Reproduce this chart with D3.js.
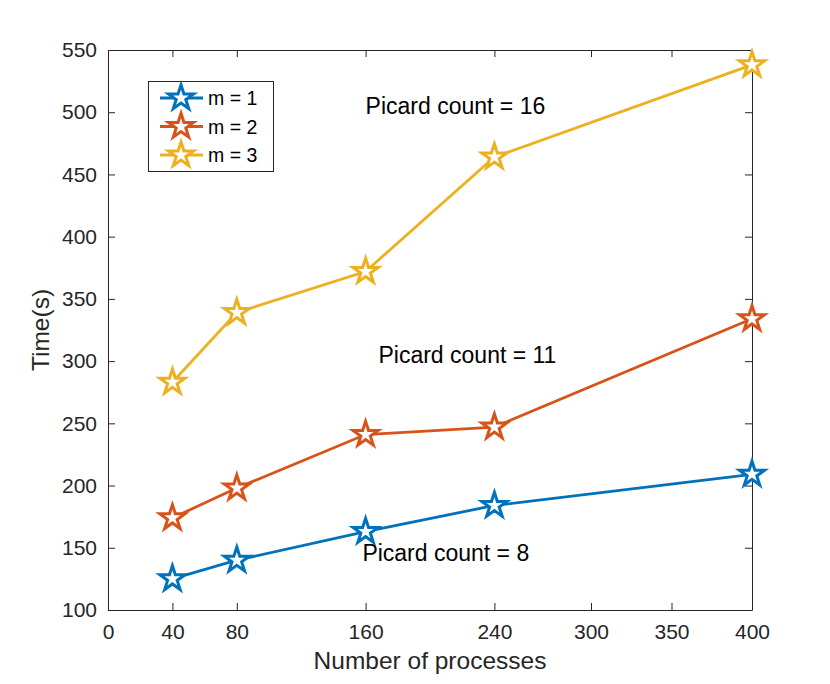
<!DOCTYPE html>
<html>
<head>
<meta charset="utf-8">
<script src="https://cdn.jsdelivr.net/npm/d3@7"></script>
<style>
  body { margin: 0; background: #fff; }
  text { font-family: "Liberation Sans", Arial, Helvetica, sans-serif; }
</style>
</head>
<body>
<svg id="chart" width="830" height="684"></svg>
<script>
// data
const processes = [40, 80, 160, 240, 400];
const seriesNames = ["m = 1", "m = 2", "m = 3"];
const timeM1 = [125, 140, 163, 184, 209];
const timeM2 = [174, 198, 241, 247, 334];
const timeM3 = [283, 339, 372, 464, 538];
const seriesColors = ["#0072BD", "#D95319", "#EDB120"];
const xTicks = [0, 40, 80, 160, 240, 300, 350, 400];
const yTicks = [100, 150, 200, 250, 300, 350, 400, 450, 500, 550];
const notes = [
  { label: "Picard count = 16", x: 160, y: 505 },
  { label: "Picard count = 11", x: 168, y: 305 },
  { label: "Picard count = 8", x: 158, y: 146 }
];

const margins = { left: 108, right: 78, top: 50, bottom: 74 };
const width = 830, height = 684;
const axisColor = "#262626";
const tickLen = 7;

const svg = d3.select("#chart");

const x = d3.scaleLinear().domain([0, 400]).range([margins.left, width - margins.right]);
const y = d3.scaleLinear().domain([100, 550]).range([height - margins.bottom, margins.top]);

const series = [timeM1, timeM2, timeM3].map((vals, i) => ({
  name: seriesNames[i],
  color: seriesColors[i],
  points: vals.map((v, j) => ({ x: processes[j], y: v }))
}));

// axes (box on, ticks pointing inward)
function styleAxis(g) {
  g.select(".domain").attr("stroke", axisColor);
  g.selectAll(".tick line").attr("stroke", axisColor);
  g.selectAll(".tick text")
    .attr("fill", axisColor)
    .style("font-size", "21px");
}

svg.append("g")
  .attr("transform", `translate(0,${y(100)})`)
  .call(d3.axisBottom(x).tickValues(xTicks).tickSizeInner(-tickLen).tickSizeOuter(0).tickPadding(14))
  .call(styleAxis);

svg.append("g")
  .attr("transform", `translate(0,${y(550)})`)
  .call(d3.axisTop(x).tickValues(xTicks).tickSizeInner(-tickLen).tickSizeOuter(0).tickFormat(""))
  .call(styleAxis);

svg.append("g")
  .attr("transform", `translate(${x(0)},0)`)
  .call(d3.axisLeft(y).tickValues(yTicks).tickSizeInner(-tickLen).tickSizeOuter(0).tickPadding(11))
  .call(styleAxis);

svg.append("g")
  .attr("transform", `translate(${x(400)},0)`)
  .call(d3.axisRight(y).tickValues(yTicks).tickSizeInner(-tickLen).tickSizeOuter(0).tickFormat(""))
  .call(styleAxis);

// axis labels
svg.append("text")
  .attr("x", (x(0) + x(400)) / 2)
  .attr("y", 669)
  .attr("text-anchor", "middle")
  .attr("fill", axisColor)
  .style("font-size", "24.5px")
  .text("Number of processes");

svg.append("text")
  .attr("transform", `translate(49,${(y(100) + y(550)) / 2}) rotate(-90)`)
  .attr("text-anchor", "middle")
  .attr("fill", axisColor)
  .style("font-size", "24.5px")
  .text("Time(s)");

// lines + star markers
const line = d3.line().x(d => x(d.x)).y(d => y(d.y));
const star = d3.symbol().type(d3.symbolStar).size(195);

series.forEach(s => {
  svg.append("path")
    .datum(s.points)
    .attr("d", line)
    .attr("fill", "none")
    .attr("stroke", s.color)
    .attr("stroke-width", 2.8);

  svg.append("g").selectAll("path")
    .data(s.points)
    .enter()
    .append("path")
    .attr("d", star)
    .attr("transform", d => `translate(${x(d.x)},${y(d.y)})`)
    .attr("fill", "#fff")
    .attr("stroke", s.color)
    .attr("stroke-width", 3);
});

// annotations
svg.append("g").selectAll("text")
  .data(notes)
  .enter()
  .append("text")
  .attr("x", d => x(d.x))
  .attr("y", d => y(d.y))
  .attr("dy", "0.36em")
  .attr("fill", "#000")
  .style("font-size", "23px")
  .text(d => d.label);

// legend
const legend = svg.append("g").attr("transform", "translate(148,81)");
legend.append("rect")
  .attr("x", 0.5).attr("y", 0.5)
  .attr("width", 125).attr("height", 90)
  .attr("fill", "#fff")
  .attr("stroke", axisColor)
  .attr("stroke-width", 1);

series.forEach((s, i) => {
  const row = legend.append("g").attr("transform", `translate(0,${17 + i * 28.5})`);
  row.append("line")
    .attr("x1", 12).attr("x2", 55)
    .attr("stroke", s.color)
    .attr("stroke-width", 2.8);
  row.append("path")
    .attr("d", star)
    .attr("transform", "translate(33,0)")
    .attr("fill", "#fff")
    .attr("stroke", s.color)
    .attr("stroke-width", 3);
  row.append("text")
    .attr("x", 60)
    .attr("dy", "0.36em")
    .attr("fill", "#000")
    .style("font-size", "19.5px")
    .text(s.name);
});
</script>
</body>
</html>
